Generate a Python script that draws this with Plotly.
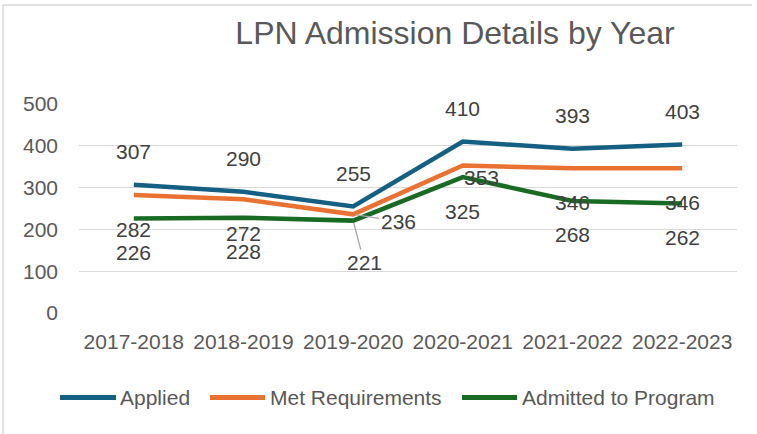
import plotly.graph_objects as go

# ---- data ----
years = ["2017-2018", "2018-2019", "2019-2020", "2020-2021", "2021-2022", "2022-2023"]
applied = [307, 290, 255, 410, 393, 403]
met_requirements = [282, 272, 236, 353, 346, 346]
admitted = [226, 228, 221, 325, 268, 262]
series_names = ["Applied", "Met Requirements", "Admitted to Program"]
y_ticks = [0, 100, 200, 300, 400, 500]

# ---- styles ----
colors = ["#156082", "#E97132", "#196B24"]
FONT = "Liberation Sans, Arial, sans-serif"
W, H = 757, 434
L, R, T, B = 79, 20, 104, 121
PW, PH = W - L - R, H - T - B


def px_x(px):
    return (px - L) / PW


def px_y(py):
    return (H - B - py) / PH


fig = go.Figure()
all_series = [applied, met_requirements, admitted]
for name, vals, col in zip(series_names, all_series, colors):
    fig.add_trace(go.Scatter(
        x=years, y=vals, mode="lines", name=name,
        line=dict(color=col, width=4.5), showlegend=False, hoverinfo="skip",
    ))

# data labels: per-series default pixel offsets, with a few exceptions
default_shift = [33, -34, -34]
special = {
    (1, 2): dict(showarrow=True, ax=45, ay=7),      # 236 with leader line
    (2, 2): dict(showarrow=True, ax=11, ay=42),     # 221 with leader line
    (1, 3): dict(showarrow=False, xshift=19, yshift=-12),
}
for si, vals in enumerate(all_series):
    for ci, v in enumerate(vals):
        kw = special.get((si, ci), dict(showarrow=False, yshift=default_shift[si]))
        if kw.get("showarrow"):
            kw = dict(kw, arrowhead=0, arrowwidth=1.3, arrowcolor="#A6A6A6",
                      axref="pixel", ayref="pixel", standoff=2)
        fig.add_annotation(x=years[ci], y=v, xref="x", yref="y", text=str(v),
                           font=dict(family=FONT, size=21, color="#404040"), **kw)

# custom legend
legend_items = [(60, 116, 118), (210, 265, 268), (462, 517, 520)]
legend_y = 397.5
for (x0, x1, tx), name, col in zip(legend_items, series_names, colors):
    fig.add_shape(type="line", xref="paper", yref="paper",
                  x0=px_x(x0), x1=px_x(x1), y0=px_y(legend_y), y1=px_y(legend_y),
                  line=dict(color=col, width=5))
    fig.add_annotation(xref="paper", yref="paper", x=px_x(tx), y=px_y(legend_y),
                       text=name, showarrow=False, xanchor="left", yanchor="middle",
                       font=dict(family=FONT, size=21, color="#595959"))

# chart border (top and left edges visible)
fig.add_shape(type="line", xref="paper", yref="paper", x0=px_x(3), x1=px_x(752),
              y0=px_y(5), y1=px_y(5), line=dict(color="#D9D9D9", width=1.5))
fig.add_shape(type="line", xref="paper", yref="paper", x0=px_x(3), x1=px_x(3),
              y0=px_y(5), y1=px_y(440), line=dict(color="#D9D9D9", width=1.5))

fig.update_layout(
    width=W, height=H,
    margin=dict(l=L, r=R, t=T, b=B, pad=0),
    paper_bgcolor="white", plot_bgcolor="white",
    title=dict(text="LPN Admission Details by Year", x=455 / W, xanchor="center",
               y=1 - 33 / H, yanchor="middle", xref="container", yref="container",
               font=dict(family=FONT, size=32, color="#595959")),
    xaxis=dict(type="category", range=[-0.5, 5.5], showgrid=False, zeroline=False,
               showline=False, ticks="", tickfont=dict(family=FONT, size=21, color="#595959"),
               ticklabelstandoff=14),
    yaxis=dict(range=[0, 500], tickvals=y_ticks, showgrid=True, gridcolor="#D9D9D9",
               gridwidth=1.3, zeroline=False, showline=False, ticks="",
               tickfont=dict(family=FONT, size=21, color="#595959"),
               ticklabelstandoff=20),
    showlegend=False,
    hovermode=False,
)

fig.write_html("out.html", config={"displayModeBar": False},
               post_script="document.body.style.margin='0';")
